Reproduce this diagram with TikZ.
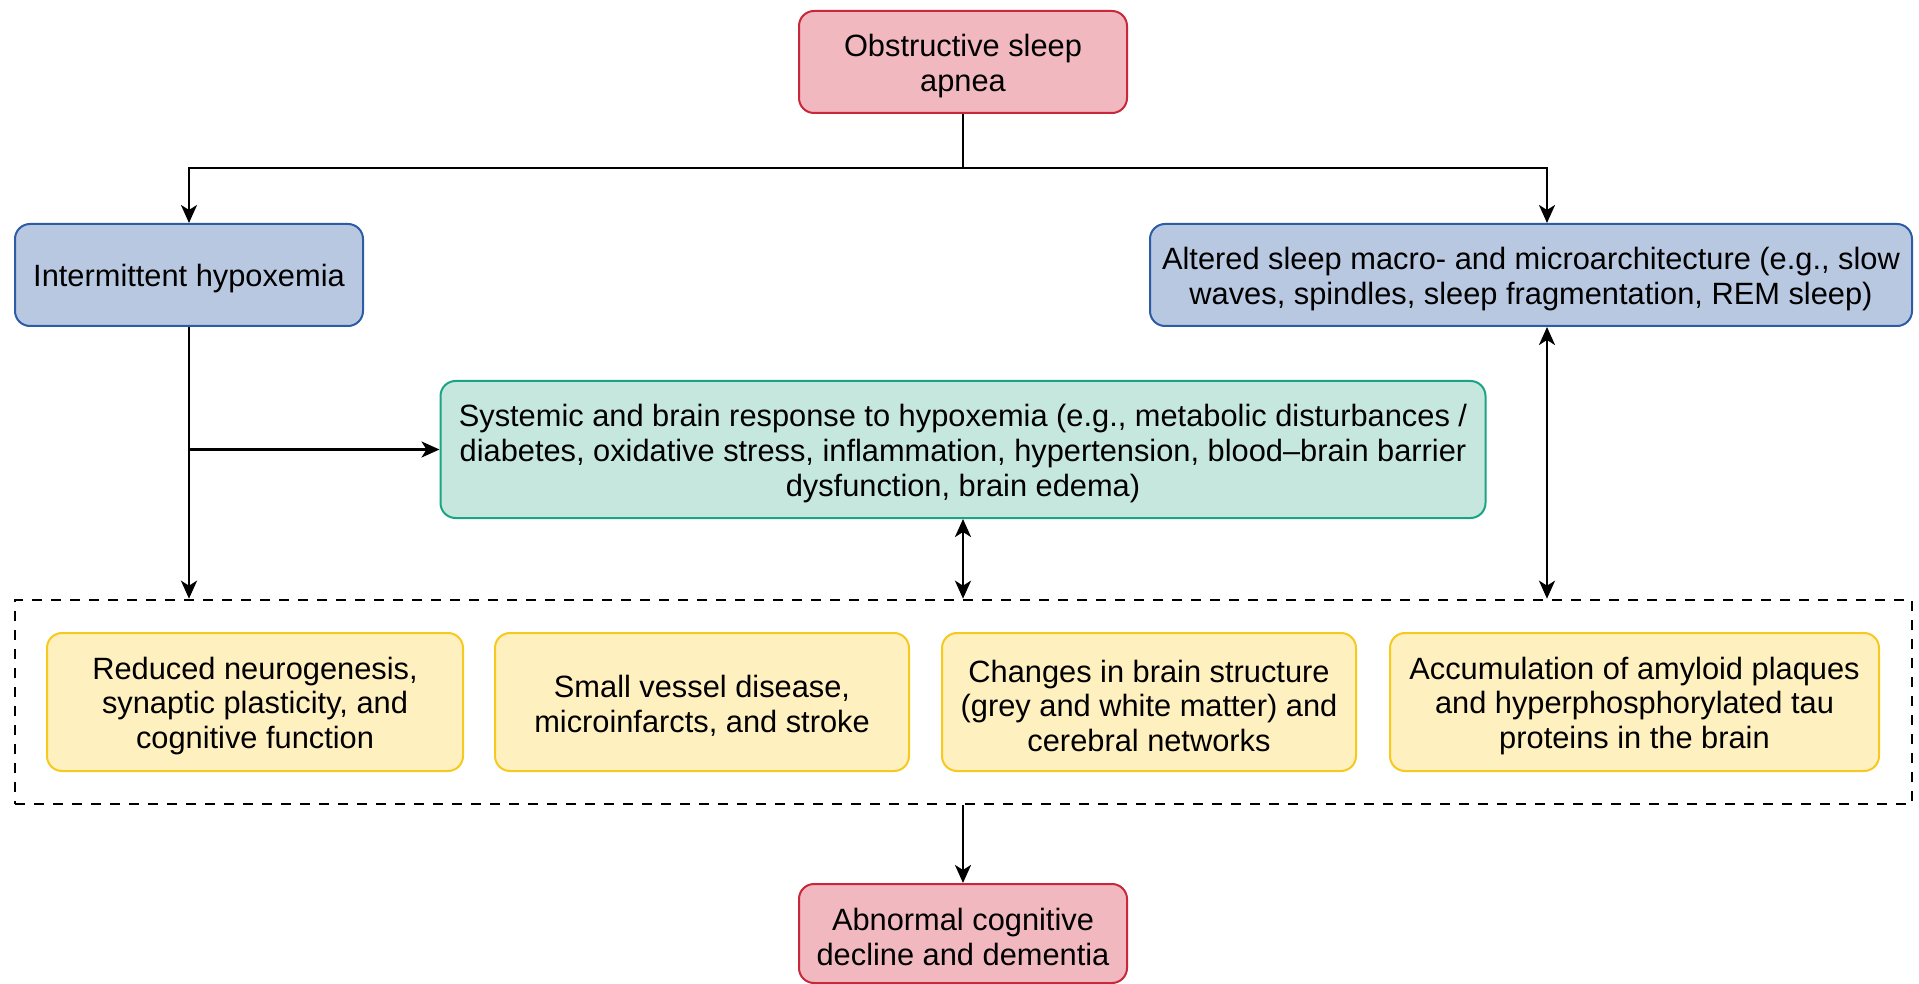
\documentclass[tikz,border=0pt]{standalone}
\usepackage{fontspec}
\setmainfont{Liberation Sans}
\usetikzlibrary{arrows.meta,calc}

\definecolor{redfill}{HTML}{F2B8BF}
\definecolor{redline}{HTML}{C8283A}
\definecolor{bluefill}{HTML}{B9C8E1}
\definecolor{blueline}{HTML}{2C5CA5}
\definecolor{greenfill}{HTML}{C6E7DE}
\definecolor{greenline}{HTML}{1AA386}
\definecolor{yellowfill}{HTML}{FFF0C0}
\definecolor{yellowline}{HTML}{F7C91E}

% tall invisible strut on the first line, so that text sits a little low in its box
\newcommand\firstline{\rule{0pt}{15pt}}

\tikzset{
  box/.style={rectangle, rounded corners=7.5pt, line width=1pt, align=center,
    inner sep=0pt, font=\fontsize{15.4}{17.4}\selectfont},
  redbox/.style={box, draw=redline, fill=redfill},
  bluebox/.style={box, draw=blueline, fill=bluefill},
  greenbox/.style={box, draw=greenline, fill=greenfill},
  yellowbox/.style={box, draw=yellowline, fill=yellowfill,
    minimum height=69pt},
  groupbox/.style={rectangle, draw=black, line width=1.3pt,
    dash pattern=on 5pt off 4.5pt, inner sep=0pt},
  conn/.style={line width=1.3pt, draw=black},
  arr/.style={conn, -{Stealth[length=9pt,width=8pt,inset=2.5pt]}},
  dbl/.style={conn, {Stealth[length=9pt,width=8pt,inset=2.5pt]}-{Stealth[length=9pt,width=8pt,inset=2.5pt]}},
}

\begin{document}
\begin{tikzpicture}[x=0.5pt,y=-0.5pt]
  \useasboundingbox (0,0) rectangle (1919,984);

  % cause
  \node[redbox, minimum width=164pt, minimum height=51pt] (osa) at (963,62)
    {\firstline Obstructive sleep\\apnea};

  % first-level mechanisms
  \node[bluebox, minimum width=174pt, minimum height=51pt] (hyp) at (189,275)
    {\firstline Intermittent hypoxemia};
  \node[bluebox, minimum width=381pt, minimum height=51pt] (alt) at (1531,275)
    {\firstline Altered sleep macro- and microarchitecture (e.g., slow\\waves, spindles, sleep fragmentation, REM sleep)};

  % systemic response
  \node[greenbox, minimum width=522.5pt, minimum height=68.5pt] (resp) at (963,449.5)
    {\firstline Systemic and brain response to hypoxemia (e.g., metabolic disturbances /\\diabetes, oxidative stress, inflammation, hypertension, blood--brain barrier\\dysfunction, brain edema)};

  % group of brain-level consequences
  \node[groupbox, minimum width=948.5pt, minimum height=102pt] (grp) at (963.5,702) {};
  \node[yellowbox, minimum width=208pt] (y1) at (255,702)
    {\firstline Reduced neurogenesis,\\synaptic plasticity, and\\cognitive function};
  \node[yellowbox, minimum width=207pt] (y2) at (702,702)
    {\firstline Small vessel disease,\\microinfarcts, and stroke};
  \node[yellowbox, minimum width=207pt] (y3) at (1149,702)
    {\firstline Changes in brain structure\\(grey and white matter) and\\cerebral networks};
  \node[yellowbox, minimum width=244.5pt] (y4) at (1634.5,702)
    {\firstline Accumulation of amyloid plaques\\and hyperphosphorylated tau\\proteins in the brain};

  % outcome
  \node[redbox, minimum width=164pt, minimum height=49.5pt] (out) at (963,933.5)
    {\firstline Abnormal cognitive\\decline and dementia};

  % connectors
  \coordinate (split) at (963,168);
  \coordinate (altTop) at ([xshift=8pt]alt.north);
  \coordinate (altBot) at ([xshift=8pt]alt.south);
  \draw[conn] (osa.south) -- (split);
  \draw[arr] (split) -| (hyp.north);
  \draw[arr] (split) -| (altTop);
  \draw[arr] (hyp.south) -- (hyp.south |- grp.north);
  \draw[arr] (hyp.south |- resp.west) -- (resp.west);
  \draw[dbl] (resp.south) -- (resp.south |- grp.north);
  \draw[dbl] (altBot) -- (altBot |- grp.north);
  \draw[arr] (out.north |- grp.south) -- (out.north);
\end{tikzpicture}
\end{document}
